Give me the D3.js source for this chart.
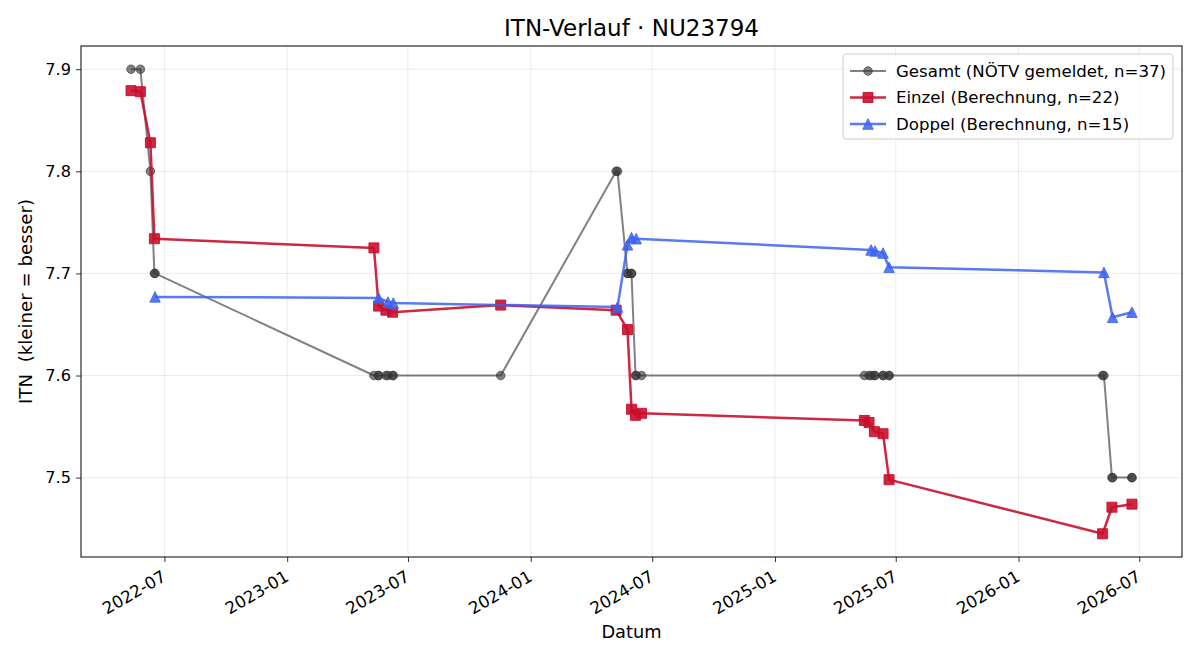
<!DOCTYPE html>
<html>
<head>
<meta charset="utf-8">
<script src="https://cdn.jsdelivr.net/npm/d3@7"></script>
<style>
  html, body { margin: 0; padding: 0; background: #fff; }
  svg { font-family: "DejaVu Sans", sans-serif; display: block; }
</style>
</head>
<body>
<svg id="chart" width="1200" height="660"></svg>
<script>
// --- data ---
const gesamtDates = [
  '2022-05-12', '2022-05-26', '2022-06-10', '2022-06-16', '2022-06-17',
  '2023-05-11', '2023-05-18', '2023-05-18', '2023-05-29', '2023-06-01', '2023-06-08', '2023-06-09',
  '2023-11-17',
  '2024-05-08', '2024-05-10', '2024-05-25', '2024-05-25', '2024-05-31', '2024-05-31',
  '2024-06-06', '2024-06-07', '2024-06-15',
  '2025-05-15', '2025-05-22', '2025-05-25', '2025-05-30', '2025-05-31', '2025-06-12', '2025-06-12',
  '2025-06-21', '2025-06-21',
  '2026-05-07', '2026-05-09', '2026-05-21', '2026-05-22', '2026-06-20', '2026-06-20'
];
const gesamtValues = [
  7.9, 7.9, 7.8, 7.7, 7.7,
  7.6, 7.6, 7.6, 7.6, 7.6, 7.6, 7.6,
  7.6,
  7.8, 7.8, 7.7, 7.7, 7.7, 7.7,
  7.6, 7.6, 7.6,
  7.6, 7.6, 7.6, 7.6, 7.6, 7.6, 7.6,
  7.6, 7.6,
  7.6, 7.6, 7.5, 7.5, 7.5, 7.5
];

const einzelDates = [
  '2022-05-12', '2022-05-26', '2022-06-10', '2022-06-16',
  '2023-05-11', '2023-05-18', '2023-05-29', '2023-06-08',
  '2023-11-17',
  '2024-05-08', '2024-05-25', '2024-05-31', '2024-06-06', '2024-06-15',
  '2025-05-15', '2025-05-22', '2025-05-30', '2025-06-12', '2025-06-21',
  '2026-05-07', '2026-05-21', '2026-06-20'
];
const einzelValues = [
  7.879, 7.878, 7.828, 7.734,
  7.725, 7.668, 7.664, 7.662,
  7.669,
  7.664, 7.645, 7.567, 7.561, 7.563,
  7.556, 7.554, 7.545, 7.543, 7.498,
  7.445, 7.471, 7.474
];

const doppelDates = [
  '2022-06-17',
  '2023-05-18', '2023-06-01', '2023-06-09',
  '2024-05-10', '2024-05-25', '2024-05-31', '2024-06-07',
  '2025-05-25', '2025-05-31', '2025-06-12', '2025-06-21',
  '2026-05-09', '2026-05-22', '2026-06-20'
];
const doppelValues = [
  7.677,
  7.676, 7.672, 7.671,
  7.667, 7.728, 7.735, 7.734,
  7.723, 7.722, 7.720, 7.706,
  7.701, 7.657, 7.662
];

const yTicks = [7.5, 7.6, 7.7, 7.8, 7.9];
const xTickDates = ['2022-07-01', '2023-01-01', '2023-07-01', '2024-01-01', '2024-07-01',
  '2025-01-01', '2025-07-01', '2026-01-01', '2026-07-01'];

const series = [
  { name: 'Gesamt (NÖTV gemeldet, n=37)', dates: gesamtDates, values: gesamtValues,
    color: '#333333', opacity: 0.62, width: 2, marker: 'circle', size: 4.3 },
  { name: 'Einzel (Berechnung, n=22)', dates: einzelDates, values: einzelValues,
    color: '#c8102e', opacity: 0.9, width: 2.5, marker: 'square', size: 10 },
  { name: 'Doppel (Berechnung, n=15)', dates: doppelDates, values: doppelValues,
    color: '#3c63f0', opacity: 0.85, width: 2.5, marker: 'triangle', size: 10.5 }
];

// --- layout ---
const W = 1200, H = 660;
const margin = { top: 46, right: 18, bottom: 103, left: 81 };
const iw = W - margin.left - margin.right;
const ih = H - margin.top - margin.bottom;
const FONT = '"DejaVu Sans", sans-serif';
const parse = d3.utcParse('%Y-%m-%d');

const svg = d3.select('#chart');
const g = svg.append('g').attr('transform', `translate(${margin.left},${margin.top})`);

// matplotlib-like 5% padding around the data
const allDates = series.flatMap(s => s.dates.map(parse));
const allVals = series.flatMap(s => s.values);
const [d0, d1] = d3.extent(allDates);
const padX = (d1 - d0) * 0.05;
const [v0, v1] = d3.extent(allVals);
const padY = (v1 - v0) * 0.05;

const x = d3.scaleUtc().domain([new Date(+d0 - padX), new Date(+d1 + padX)]).range([0, iw]);
const y = d3.scaleLinear().domain([v0 - padY, v1 + padY]).range([ih, 0]);

// grid
const grid = g.append('g').attr('class', 'grid');
grid.selectAll('line.gx')
  .data(xTickDates.map(parse))
  .join('line')
  .attr('class', 'gx')
  .attr('x1', d => x(d)).attr('x2', d => x(d))
  .attr('y1', 0).attr('y2', ih)
  .attr('stroke', '#b0b0b0').attr('stroke-opacity', 0.3).attr('stroke-width', 0.8);
grid.selectAll('line.gy')
  .data(yTicks)
  .join('line')
  .attr('class', 'gy')
  .attr('x1', 0).attr('x2', iw)
  .attr('y1', d => y(d)).attr('y2', d => y(d))
  .attr('stroke', '#b0b0b0').attr('stroke-opacity', 0.3).attr('stroke-width', 0.8);

// axes
const xAxis = g.append('g')
  .attr('transform', `translate(0,${ih})`)
  .call(d3.axisBottom(x).tickValues(xTickDates.map(parse)).tickFormat(d3.utcFormat('%Y-%m')).tickSize(5).tickPadding(4));
xAxis.attr('font-family', FONT);
xAxis.select('.domain').remove();
xAxis.selectAll('line').attr('stroke', '#000').attr('stroke-width', 0.8);
xAxis.selectAll('text')
  .attr('font-size', 16.7)
  .attr('fill', '#000')
  .attr('text-anchor', 'end')
  .attr('dy', null)
  .attr('y', 0)
  .attr('transform', 'translate(0,19) rotate(-30)')
  .attr('dominant-baseline', 'middle');

const yAxis = g.append('g')
  .call(d3.axisLeft(y).tickValues(yTicks).tickFormat(d3.format('.1f')).tickSize(5).tickPadding(5));
yAxis.attr('font-family', FONT);
yAxis.select('.domain').remove();
yAxis.selectAll('line').attr('stroke', '#000').attr('stroke-width', 0.8);
yAxis.selectAll('text').attr('font-size', 16.2).attr('fill', '#000');

// frame
g.append('rect')
  .attr('width', iw).attr('height', ih)
  .attr('fill', 'none').attr('stroke', '#000').attr('stroke-width', 1);

// marker drawer
function markerPath(type, s) {
  if (type === 'circle') return d3.symbol().type(d3.symbolCircle).size(Math.PI * s * s)();
  if (type === 'square') return `M${-s / 2},${-s / 2}H${s / 2}V${s / 2}H${-s / 2}Z`;
  return `M0,${-s / 2}L${s / 2},${s / 2}L${-s / 2},${s / 2}Z`;
}

const plot = g.append('g');
series.forEach(s => {
  const pts = s.dates.map((d, i) => ({ date: parse(d), value: s.values[i] }));
  const layer = plot.append('g');
  layer.append('path')
    .datum(pts)
    .attr('fill', 'none')
    .attr('stroke', s.color)
    .attr('stroke-opacity', s.opacity)
    .attr('stroke-width', s.width)
    .attr('stroke-linejoin', 'round')
    .attr('d', d3.line().x(d => x(d.date)).y(d => y(d.value)));
  layer.selectAll('path.mk')
    .data(pts)
    .join('path')
    .attr('class', 'mk')
    .attr('transform', d => `translate(${x(d.date)},${y(d.value)})`)
    .attr('d', markerPath(s.marker, s.size))
    .attr('fill', s.color)
    .attr('fill-opacity', s.opacity)
    .attr('stroke', s.color)
    .attr('stroke-opacity', s.opacity)
    .attr('stroke-width', 1);
});

// title and labels
svg.append('text')
  .attr('x', margin.left + iw / 2).attr('y', 36)
  .attr('text-anchor', 'middle')
  .attr('font-size', 23)
  .text('ITN-Verlauf · NU23794');

svg.append('text')
  .attr('x', margin.left + iw / 2).attr('y', 638)
  .attr('text-anchor', 'middle')
  .attr('font-size', 17.8)
  .text('Datum');

svg.append('text')
  .attr('transform', `translate(32,${margin.top + ih / 2}) rotate(-90)`)
  .attr('text-anchor', 'middle')
  .attr('font-size', 18.2)
  .style('white-space', 'pre')
  .text('ITN  (kleiner = besser)');

// legend
const legend = svg.append('g').attr('transform', 'translate(843,54)');
legend.append('rect')
  .attr('width', 330).attr('height', 85).attr('rx', 3)
  .attr('fill', '#fff').attr('fill-opacity', 0.8)
  .attr('stroke', '#cccccc').attr('stroke-width', 1);
const item = legend.selectAll('g.item')
  .data(series)
  .join('g')
  .attr('class', 'item')
  .attr('transform', (d, i) => `translate(0,${17 + i * 26.5})`);
item.append('line')
  .attr('x1', 7).attr('x2', 43)
  .attr('stroke', d => d.color).attr('stroke-opacity', d => d.opacity)
  .attr('stroke-width', d => d.width);
item.append('path')
  .attr('transform', 'translate(25,0)')
  .attr('d', d => markerPath(d.marker, d.size))
  .attr('fill', d => d.color).attr('fill-opacity', d => d.opacity)
  .attr('stroke', d => d.color).attr('stroke-opacity', d => d.opacity);
item.append('text')
  .attr('x', 53).attr('dy', '0.35em')
  .attr('font-size', 16.6)
  .text(d => d.name);
</script>
</body>
</html>
